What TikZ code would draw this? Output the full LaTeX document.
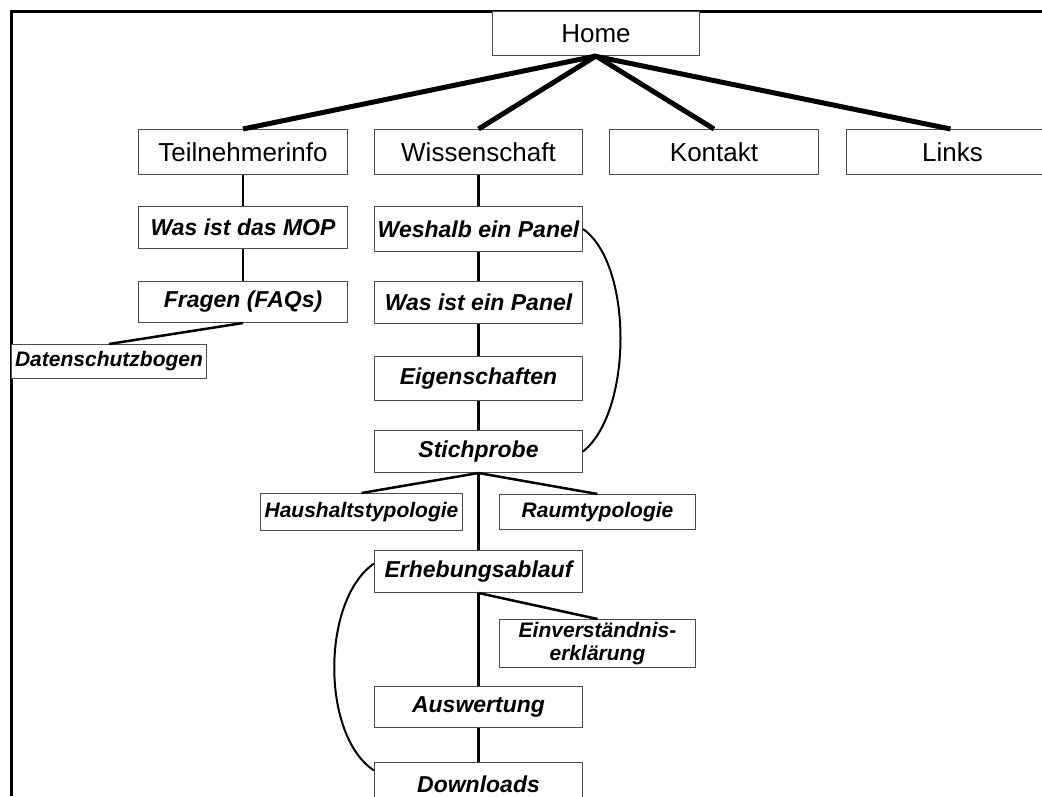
\documentclass[tikz,border=0pt]{standalone}
\usepackage{fontspec}
\setmainfont{Liberation Sans}
\begin{document}
\begin{tikzpicture}[x=1pt,y=-1pt,
  box/.style={draw=black!70,line width=1pt,fill=white,anchor=north west,inner sep=0pt,
    minimum width=#1,align=center},
  topbox/.style={box=209,minimum height=45,font=\fontsize{26}{30}\selectfont},
  midbox/.style={box=208,minimum height=43,font=\fontsize{23}{27}\selectfont\bfseries\itshape},
  smallbox/.style={box=#1,minimum height=36,font=\fontsize{21}{24}\selectfont\bfseries\itshape},
  thick link/.style={line width=5pt},
  thin link/.style={line width=2.5pt},
  arc link/.style={line width=2pt}]
\useasboundingbox (0,0) rectangle (1042,796);
% frame
\draw[line width=3pt] (11,796) coordinate (fbl) -- (11,11) coordinate (ftl) -- (1042,11) coordinate (ftr);
% nodes
\node[topbox,minimum width=207,minimum height=44] (home) at (492,11) {Home};
\node[topbox] (teil) at (138,129) {Teilnehmerinfo};
\node[topbox,minimum width=208] (wiss) at (374,129) {Wissenschaft};
\node[topbox] (kont) at (609,129) {Kontakt};
\node[topbox,minimum width=212] (links) at (846,129) {Links};
\node[midbox,minimum width=209,minimum height=42] (mop) at (138,206) {Was ist das MOP};
\node[midbox,minimum width=209,minimum height=41] (faq) at (138,281) {Fragen (FAQs)};
\node[smallbox=195,minimum height=34] (daten) at (11,344) {Datenschutzbogen};
\node[midbox,minimum height=45] (wesh) at (374,206) {Weshalb ein Panel};
\node[midbox,minimum height=42] (wasp) at (374,281) {Was ist ein Panel};
\node[midbox,minimum height=44] (eig) at (374,356) {Eigenschaften};
\node[midbox,minimum height=42] (stich) at (374,430) {Stichprobe};
\node[smallbox=202,minimum height=37] (haus) at (260,493) {Haushaltstypologie};
\node[smallbox=196,minimum height=35] (raum) at (499,494) {Raumtypologie};
\node[midbox,minimum height=42] (erheb) at (374,550) {Erhebungsablauf};
\node[smallbox=196,minimum height=48,font=\fontsize{21}{23}\selectfont\bfseries\itshape] (einv) at (499,619) {Einverständnis-\\erklärung};
\node[midbox,minimum height=41] (ausw) at (374,686) {Auswertung};
\node[midbox,minimum height=44] (down) at (374,762) {Downloads};
% connectors
\draw[thick link] (home.south) -- (teil.north);
\draw[thick link] (home.south) -- (wiss.north);
\draw[thick link] (home.south) -- (kont.north);
\draw[thick link] ([xshift=-2pt]home.south) -- ([xshift=-2pt]links.north);
\draw[thin link] (teil.south) -- (mop.north);
\draw[thin link] (mop.south) -- (faq.north);
\draw[thin link] (faq.south) -- (daten.north);
\draw[thin link] (wiss.south) -- (wesh.north);
\draw[thin link] (wesh.south) -- (wasp.north);
\draw[thin link] (wasp.south) -- (eig.north);
\draw[thin link] (eig.south) -- (stich.north);
\draw[thin link] (stich.south) -- (haus.north);
\draw[thin link] (stich.south) -- (raum.north);
\draw[thin link] (stich.south) -- (erheb.north);
\draw[thin link] (erheb.south) -- (einv.north);
\draw[thin link] (erheb.south) -- (ausw.north);
\draw[thin link] (ausw.south) -- (down.north);
\draw[arc link] (wesh.east) .. controls +(50,35) and +(50,-40) .. (stich.east);
\draw[arc link] ([yshift=8pt]erheb.west) .. controls +(-53,37) and +(-53,-35) .. ([yshift=14pt]down.west);
\end{tikzpicture}
\end{document}
